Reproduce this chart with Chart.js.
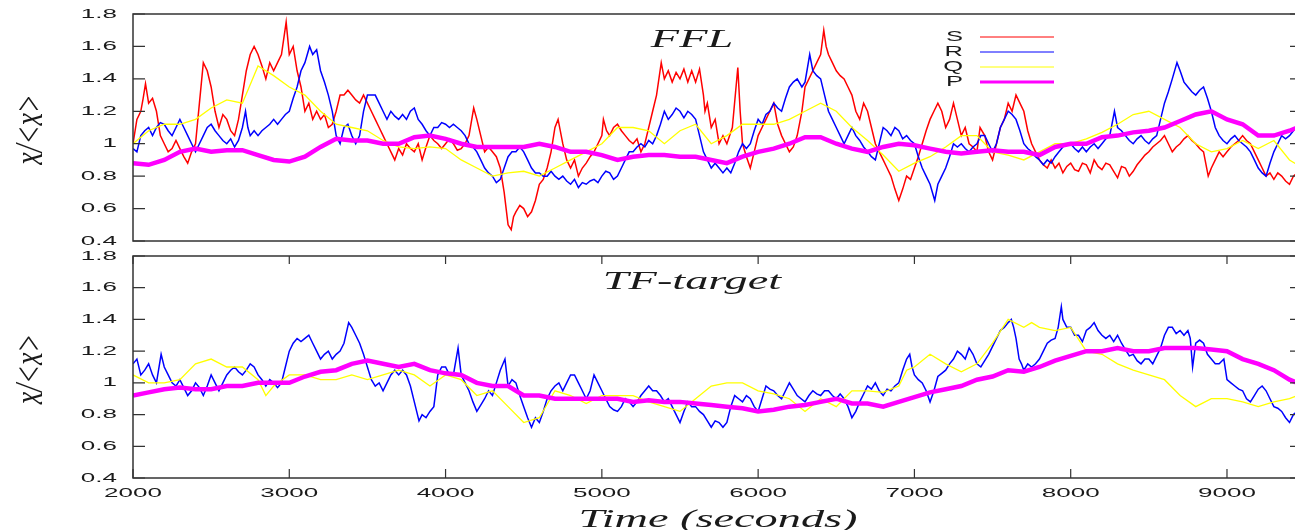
<!DOCTYPE html>
<html>
<head>
<meta charset="utf-8">
<script src="https://cdn.jsdelivr.net/npm/chart.js@4.4.1/dist/chart.umd.min.js"></script>
<style>
  html, body { margin: 0; padding: 0; background: #fff; overflow: hidden; }
  #wrap { position: relative; width: 1295px; height: 530px; overflow: hidden; }
  #wrap canvas { position: absolute; left: 0; top: 0; }
</style>
</head>
<body>
<div id="wrap">
  <canvas id="ffl" width="1303" height="530"></canvas>
  <canvas id="tft" width="1303" height="530"></canvas>
</div>
<script>
// tick labels
const xTicks = [2000, 3000, 4000, 5000, 6000, 7000, 8000, 9000];
const yTicks = [0.4, 0.6, 0.8, 1, 1.2, 1.4, 1.6, 1.8];

// FFL panel, [time, x/<x>]
const fflS = [[2000,1.0],[2025,1.15],[2050,1.2],[2065,1.28],[2080,1.37],[2100,1.25],[2125,1.28],[2150,1.2],[2175,1.05],[2200,1.0],[2225,0.95],[2250,0.97],[2275,1.02],[2300,0.97],[2325,0.92],[2350,0.88],[2375,0.95],[2400,1.0],[2425,1.25],[2450,1.5],[2475,1.45],[2500,1.35],[2525,1.2],[2550,1.1],[2575,1.18],[2600,1.15],[2625,1.08],[2650,1.05],[2675,1.15],[2700,1.3],[2725,1.45],[2750,1.55],[2775,1.6],[2800,1.55],[2825,1.48],[2850,1.4],[2875,1.5],[2900,1.45],[2925,1.5],[2950,1.55],[2980,1.75],[3000,1.55],[3025,1.6],[3050,1.45],[3075,1.35],[3100,1.2],[3125,1.25],[3150,1.15],[3175,1.2],[3200,1.15],[3225,1.18],[3250,1.1],[3275,1.12],[3300,1.2],[3325,1.3],[3350,1.3],[3375,1.33],[3400,1.3],[3425,1.27],[3450,1.25],[3475,1.3],[3500,1.25],[3525,1.2],[3550,1.15],[3575,1.1],[3600,1.05],[3625,1.0],[3650,0.95],[3675,0.9],[3700,0.97],[3725,0.93],[3750,1.0],[3775,0.97],[3800,0.95],[3825,1.0],[3850,0.9],[3875,0.98],[3900,1.05],[3925,1.02],[3950,1.0],[3975,0.97],[4000,1.0],[4025,1.03],[4050,1.0],[4075,0.96],[4100,0.97],[4125,1.0],[4150,1.05],[4180,1.22],[4200,1.15],[4225,1.05],[4250,0.95],[4275,0.98],[4300,0.95],[4325,0.92],[4350,0.85],[4375,0.7],[4400,0.5],[4420,0.47],[4435,0.55],[4450,0.58],[4475,0.62],[4500,0.6],[4525,0.55],[4550,0.58],[4575,0.65],[4600,0.75],[4625,0.78],[4650,0.85],[4675,0.95],[4700,1.1],[4720,1.15],[4750,1.0],[4775,0.9],[4800,0.85],[4825,0.9],[4850,0.8],[4875,0.85],[4900,0.88],[4925,0.92],[4950,0.95],[4975,1.0],[5000,1.05],[5010,1.15],[5030,1.08],[5050,1.05],[5075,1.1],[5100,1.12],[5125,1.08],[5150,1.05],[5175,1.02],[5200,1.0],[5225,1.03],[5250,0.95],[5275,1.0],[5300,1.1],[5325,1.2],[5350,1.3],[5380,1.5],[5400,1.4],[5425,1.45],[5450,1.38],[5475,1.44],[5500,1.4],[5525,1.46],[5550,1.38],[5575,1.45],[5600,1.38],[5625,1.46],[5650,1.3],[5660,1.2],[5675,1.25],[5700,1.1],[5725,1.15],[5750,1.0],[5775,1.05],[5800,1.0],[5835,1.1],[5870,1.47],[5885,1.2],[5900,1.0],[5925,0.92],[5950,0.85],[5975,0.95],[6000,1.05],[6025,1.1],[6050,1.15],[6075,1.2],[6100,1.25],[6125,1.12],[6150,1.05],[6175,1.0],[6200,0.95],[6225,0.98],[6250,1.05],[6280,1.2],[6300,1.35],[6325,1.4],[6350,1.45],[6375,1.5],[6400,1.55],[6420,1.7],[6435,1.6],[6450,1.55],[6475,1.5],[6500,1.45],[6525,1.42],[6550,1.4],[6575,1.35],[6600,1.3],[6625,1.2],[6650,1.15],[6675,1.25],[6700,1.2],[6725,1.1],[6750,1.0],[6775,0.95],[6800,0.9],[6825,0.85],[6850,0.8],[6875,0.72],[6900,0.65],[6925,0.72],[6950,0.8],[6975,0.78],[7000,0.85],[7025,0.92],[7050,1.0],[7075,1.08],[7100,1.15],[7125,1.2],[7150,1.25],[7175,1.2],[7200,1.1],[7225,1.15],[7250,1.25],[7275,1.15],[7300,1.05],[7325,1.1],[7350,1.0],[7375,0.98],[7400,0.95],[7420,1.1],[7450,1.05],[7475,0.95],[7500,0.9],[7525,1.0],[7550,1.1],[7575,1.15],[7600,1.25],[7625,1.2],[7650,1.3],[7675,1.25],[7700,1.2],[7725,1.08],[7750,1.0],[7775,0.95],[7800,0.9],[7825,0.87],[7850,0.85],[7875,0.9],[7900,0.85],[7925,0.88],[7950,0.82],[7975,0.86],[8000,0.88],[8025,0.84],[8050,0.83],[8075,0.88],[8100,0.87],[8125,0.82],[8150,0.9],[8175,0.86],[8200,0.84],[8225,0.88],[8250,0.87],[8275,0.83],[8300,0.79],[8325,0.86],[8350,0.85],[8375,0.8],[8400,0.83],[8425,0.87],[8450,0.9],[8475,0.93],[8500,0.95],[8525,0.98],[8550,1.0],[8575,1.02],[8600,1.05],[8625,1.0],[8650,0.95],[8675,0.98],[8700,1.0],[8725,1.03],[8750,1.05],[8775,1.02],[8800,1.0],[8825,0.97],[8850,0.95],[8880,0.8],[8900,0.85],[8925,0.9],[8950,0.95],[8975,0.92],[9000,0.95],[9025,0.98],[9050,1.0],[9075,1.02],[9100,1.05],[9125,1.02],[9150,1.0],[9175,0.95],[9200,0.9],[9225,0.85],[9250,0.8],[9275,0.82],[9300,0.78],[9325,0.82],[9350,0.8],[9375,0.77],[9400,0.75],[9425,0.8],[9450,0.82]];
const fflR = [[2000,0.97],[2025,0.95],[2050,1.05],[2075,1.08],[2100,1.1],[2125,1.05],[2150,1.1],[2175,1.13],[2200,1.12],[2225,1.08],[2250,1.05],[2275,1.1],[2300,1.15],[2325,1.1],[2350,1.05],[2375,1.0],[2400,0.95],[2425,1.0],[2450,1.05],[2475,1.1],[2500,1.12],[2525,1.08],[2550,1.05],[2575,1.02],[2600,1.0],[2625,1.03],[2650,0.98],[2675,1.02],[2700,1.1],[2720,1.2],[2735,1.1],[2750,1.05],[2775,1.08],[2800,1.05],[2825,1.08],[2850,1.1],[2875,1.12],[2900,1.15],[2925,1.12],[2950,1.15],[2975,1.18],[3000,1.2],[3025,1.28],[3050,1.35],[3075,1.45],[3100,1.5],[3130,1.6],[3150,1.55],[3175,1.58],[3200,1.45],[3225,1.38],[3250,1.3],[3275,1.2],[3300,1.05],[3325,1.0],[3350,1.1],[3375,1.12],[3400,1.05],[3425,1.0],[3450,1.05],[3475,1.2],[3500,1.3],[3525,1.3],[3550,1.3],[3575,1.25],[3600,1.2],[3625,1.15],[3650,1.2],[3675,1.17],[3700,1.15],[3725,1.18],[3750,1.15],[3775,1.2],[3800,1.22],[3825,1.15],[3850,1.12],[3875,1.08],[3900,1.05],[3925,1.1],[3950,1.1],[3975,1.13],[4000,1.12],[4025,1.1],[4050,1.12],[4075,1.1],[4100,1.08],[4125,1.05],[4150,1.0],[4175,0.98],[4200,0.95],[4225,0.9],[4250,0.85],[4275,0.82],[4300,0.8],[4325,0.76],[4350,0.78],[4375,0.85],[4400,0.92],[4425,0.95],[4450,0.95],[4475,0.98],[4500,0.95],[4525,0.9],[4550,0.85],[4575,0.82],[4600,0.82],[4625,0.8],[4650,0.8],[4675,0.83],[4700,0.8],[4725,0.78],[4750,0.8],[4775,0.77],[4800,0.75],[4825,0.78],[4850,0.73],[4875,0.76],[4900,0.75],[4925,0.77],[4950,0.78],[4975,0.76],[5000,0.8],[5025,0.83],[5050,0.82],[5075,0.78],[5100,0.8],[5125,0.85],[5150,0.9],[5175,0.95],[5200,0.95],[5225,0.98],[5250,1.0],[5275,0.98],[5300,1.02],[5325,1.0],[5350,1.05],[5375,1.12],[5400,1.2],[5425,1.15],[5450,1.18],[5475,1.22],[5500,1.2],[5525,1.16],[5550,1.2],[5575,1.18],[5600,1.15],[5625,1.05],[5650,0.95],[5675,0.9],[5700,0.85],[5725,0.88],[5750,0.85],[5775,0.82],[5800,0.85],[5825,0.82],[5850,0.88],[5875,0.95],[5900,1.0],[5925,0.97],[5950,1.0],[5975,1.08],[6000,1.15],[6025,1.12],[6050,1.18],[6075,1.2],[6100,1.25],[6125,1.22],[6150,1.2],[6175,1.28],[6200,1.35],[6225,1.38],[6250,1.4],[6280,1.35],[6300,1.38],[6330,1.55],[6350,1.45],[6375,1.42],[6400,1.4],[6425,1.3],[6450,1.2],[6475,1.15],[6500,1.1],[6525,1.05],[6550,1.0],[6575,1.05],[6600,1.1],[6625,1.05],[6650,1.02],[6675,0.98],[6700,0.95],[6725,0.92],[6750,0.9],[6775,1.0],[6800,1.1],[6825,1.08],[6850,1.05],[6875,1.1],[6900,1.08],[6925,1.03],[6950,1.05],[6975,1.02],[7000,1.0],[7025,0.92],[7050,0.85],[7075,0.8],[7100,0.75],[7130,0.65],[7150,0.75],[7175,0.8],[7200,0.85],[7225,0.92],[7250,1.0],[7275,0.98],[7300,1.0],[7325,0.97],[7350,0.95],[7375,0.98],[7400,1.0],[7425,1.05],[7450,1.05],[7475,1.0],[7500,0.95],[7525,1.0],[7550,1.1],[7575,1.15],[7600,1.2],[7625,1.18],[7650,1.15],[7675,1.08],[7700,1.0],[7725,0.97],[7750,0.95],[7775,0.92],[7800,0.9],[7825,0.87],[7850,0.9],[7875,0.88],[7900,0.92],[7925,0.95],[7950,0.98],[7975,1.0],[8000,1.0],[8025,0.97],[8050,0.95],[8075,0.98],[8100,0.95],[8125,0.98],[8150,1.0],[8175,0.97],[8200,1.0],[8225,1.03],[8250,1.05],[8280,1.2],[8300,1.1],[8325,1.08],[8350,1.05],[8375,1.02],[8400,1.0],[8425,1.03],[8450,1.05],[8475,1.02],[8500,1.0],[8525,1.03],[8550,1.05],[8575,1.15],[8600,1.25],[8625,1.32],[8650,1.4],[8680,1.5],[8700,1.45],[8725,1.38],[8750,1.35],[8775,1.32],[8800,1.3],[8825,1.33],[8850,1.35],[8875,1.28],[8900,1.2],[8925,1.1],[8950,1.05],[8975,1.02],[9000,1.0],[9025,1.03],[9050,1.05],[9075,1.02],[9100,1.0],[9125,0.98],[9150,0.95],[9175,0.9],[9200,0.85],[9225,0.82],[9250,0.8],[9275,0.88],[9300,0.95],[9325,1.0],[9350,1.05],[9375,1.03],[9400,1.05],[9425,1.08],[9450,1.1]];
const fflQ = [[2000,1.0],[2100,1.08],[2200,1.12],[2300,1.12],[2400,1.15],[2500,1.22],[2600,1.27],[2700,1.25],[2800,1.48],[2900,1.42],[3000,1.35],[3100,1.3],[3200,1.2],[3300,1.12],[3400,1.1],[3500,1.08],[3600,1.02],[3700,0.98],[3800,0.97],[3900,0.98],[4000,0.97],[4100,0.9],[4200,0.85],[4300,0.8],[4400,0.82],[4500,0.83],[4600,0.8],[4700,0.85],[4800,0.9],[4900,0.95],[5000,1.0],[5100,1.1],[5200,1.1],[5300,1.08],[5400,1.0],[5500,1.08],[5600,1.12],[5700,1.0],[5800,1.05],[5900,1.12],[6000,1.12],[6100,1.12],[6200,1.15],[6300,1.2],[6400,1.25],[6500,1.2],[6600,1.1],[6700,1.02],[6800,0.93],[6900,0.83],[7000,0.88],[7100,0.92],[7200,0.98],[7300,1.05],[7400,1.05],[7500,0.95],[7600,0.93],[7700,0.9],[7800,0.95],[7900,1.0],[8000,1.0],[8100,1.03],[8200,1.07],[8300,1.12],[8400,1.18],[8500,1.2],[8600,1.15],[8700,1.1],[8800,1.0],[8900,0.95],[9000,0.97],[9100,1.02],[9200,0.97],[9300,1.02],[9400,0.9],[9450,0.87]];
const fflP = [[2000,0.88],[2100,0.87],[2200,0.9],[2300,0.95],[2400,0.97],[2500,0.95],[2600,0.96],[2700,0.96],[2800,0.93],[2900,0.9],[3000,0.89],[3100,0.92],[3200,0.98],[3300,1.03],[3400,1.02],[3500,1.02],[3600,1.0],[3700,1.0],[3800,1.04],[3900,1.05],[4000,1.03],[4100,1.0],[4200,0.98],[4300,0.98],[4400,0.98],[4500,0.98],[4600,1.0],[4700,0.98],[4800,0.95],[4900,0.95],[5000,0.93],[5100,0.9],[5200,0.92],[5300,0.93],[5400,0.93],[5500,0.92],[5600,0.92],[5700,0.9],[5800,0.88],[5900,0.92],[6000,0.95],[6100,0.97],[6200,1.0],[6300,1.04],[6400,1.04],[6500,1.0],[6600,0.97],[6700,0.95],[6800,0.98],[6900,1.0],[7000,0.99],[7100,0.97],[7200,0.95],[7300,0.94],[7400,0.95],[7500,0.96],[7600,0.95],[7700,0.95],[7800,0.93],[7900,0.98],[8000,1.0],[8100,1.0],[8200,1.04],[8300,1.05],[8400,1.07],[8500,1.08],[8600,1.1],[8700,1.14],[8800,1.18],[8900,1.2],[9000,1.15],[9100,1.12],[9200,1.05],[9300,1.05],[9400,1.08],[9450,1.1]];

// TF-target panel
const tfR = [[2000,1.12],[2025,1.15],[2050,1.05],[2075,1.08],[2100,1.12],[2125,1.05],[2150,1.0],[2180,1.18],[2200,1.1],[2225,1.05],[2250,1.0],[2275,0.98],[2300,1.02],[2325,0.97],[2350,0.92],[2375,0.95],[2400,1.0],[2425,0.97],[2450,0.92],[2475,0.98],[2500,1.05],[2525,1.0],[2550,0.95],[2575,1.0],[2600,1.05],[2625,1.08],[2650,1.1],[2675,1.07],[2700,1.05],[2725,1.08],[2750,1.12],[2775,1.1],[2800,1.05],[2825,1.02],[2850,0.98],[2875,1.02],[2900,1.0],[2925,0.97],[2950,1.0],[2975,1.1],[3000,1.2],[3025,1.25],[3050,1.28],[3075,1.26],[3100,1.28],[3125,1.3],[3150,1.25],[3175,1.2],[3200,1.15],[3225,1.18],[3250,1.2],[3275,1.15],[3300,1.18],[3325,1.2],[3350,1.25],[3380,1.38],[3400,1.35],[3425,1.3],[3450,1.25],[3475,1.18],[3500,1.1],[3525,1.02],[3550,0.98],[3575,1.0],[3600,0.95],[3625,1.0],[3650,1.05],[3675,1.08],[3700,1.05],[3725,1.08],[3750,1.05],[3775,0.98],[3800,0.88],[3830,0.76],[3850,0.8],[3875,0.78],[3900,0.82],[3925,0.85],[3950,1.05],[3975,1.1],[4000,1.1],[4025,1.05],[4050,1.05],[4080,1.22],[4100,1.05],[4125,1.0],[4150,0.95],[4175,0.88],[4200,0.82],[4225,0.86],[4250,0.9],[4275,0.95],[4300,0.92],[4325,1.0],[4350,1.08],[4380,1.15],[4400,0.98],[4425,1.02],[4450,1.0],[4475,0.92],[4500,0.85],[4525,0.78],[4550,0.72],[4575,0.78],[4600,0.75],[4625,0.82],[4650,0.9],[4675,0.95],[4700,0.98],[4725,1.0],[4750,0.95],[4775,1.0],[4800,1.05],[4825,1.05],[4850,1.0],[4875,0.95],[4900,0.9],[4925,0.95],[4950,1.05],[4975,1.0],[5000,0.95],[5025,0.9],[5050,0.85],[5075,0.83],[5100,0.82],[5125,0.85],[5150,0.9],[5175,0.88],[5200,0.85],[5225,0.88],[5250,0.92],[5275,0.95],[5300,0.98],[5325,0.95],[5350,0.95],[5375,0.92],[5400,0.88],[5425,0.9],[5450,0.85],[5475,0.8],[5500,0.75],[5525,0.82],[5550,0.88],[5575,0.85],[5600,0.85],[5625,0.82],[5650,0.8],[5675,0.76],[5700,0.72],[5725,0.76],[5750,0.75],[5775,0.72],[5800,0.75],[5825,0.85],[5850,0.92],[5875,0.9],[5900,0.88],[5925,0.92],[5950,0.9],[5975,0.85],[6000,0.82],[6025,0.9],[6050,0.98],[6075,0.96],[6100,0.95],[6125,0.92],[6150,0.9],[6175,0.95],[6200,1.0],[6225,0.96],[6250,0.92],[6275,0.9],[6300,0.88],[6325,0.92],[6350,0.95],[6375,0.93],[6400,0.92],[6425,0.95],[6450,0.95],[6475,0.92],[6500,0.9],[6525,0.93],[6550,0.9],[6575,0.85],[6600,0.78],[6625,0.82],[6650,0.88],[6675,0.93],[6700,0.98],[6725,0.96],[6750,1.0],[6775,0.95],[6800,0.92],[6825,0.96],[6850,0.95],[6875,0.98],[6900,1.0],[6925,1.08],[6950,1.15],[6970,1.18],[6985,1.1],[7000,1.05],[7025,1.02],[7050,1.0],[7075,0.95],[7100,0.88],[7125,0.95],[7150,1.04],[7175,1.06],[7200,1.08],[7225,1.12],[7250,1.15],[7275,1.2],[7300,1.18],[7325,1.15],[7350,1.22],[7375,1.18],[7400,1.12],[7425,1.1],[7450,1.14],[7475,1.18],[7500,1.23],[7525,1.28],[7550,1.33],[7575,1.35],[7600,1.38],[7620,1.4],[7635,1.35],[7650,1.28],[7670,1.15],[7685,1.12],[7700,1.08],[7725,1.12],[7750,1.1],[7775,1.12],[7800,1.15],[7825,1.2],[7850,1.25],[7875,1.27],[7900,1.28],[7920,1.35],[7940,1.48],[7950,1.4],[7975,1.35],[8000,1.35],[8025,1.3],[8050,1.3],[8075,1.26],[8100,1.33],[8125,1.35],[8150,1.38],[8175,1.33],[8200,1.3],[8225,1.28],[8250,1.3],[8275,1.26],[8300,1.3],[8325,1.25],[8350,1.21],[8375,1.17],[8400,1.18],[8425,1.14],[8450,1.12],[8475,1.15],[8500,1.15],[8525,1.12],[8550,1.17],[8575,1.22],[8600,1.3],[8625,1.35],[8650,1.35],[8675,1.31],[8700,1.33],[8725,1.3],[8750,1.33],[8765,1.28],[8780,1.1],[8800,1.25],[8825,1.27],[8850,1.25],[8875,1.18],[8900,1.15],[8925,1.12],[8950,1.12],[8980,1.15],[9000,1.02],[9025,1.0],[9050,0.98],[9075,0.96],[9100,0.95],[9125,0.9],[9150,0.88],[9175,0.92],[9200,0.96],[9225,0.98],[9250,0.95],[9275,0.9],[9300,0.85],[9325,0.84],[9350,0.82],[9375,0.78],[9400,0.75],[9425,0.8],[9450,0.82]];
const tfQ = [[2000,1.05],[2100,1.0],[2200,1.0],[2300,1.02],[2400,1.12],[2500,1.15],[2600,1.1],[2700,1.1],[2800,1.02],[2850,0.92],[2900,0.98],[3000,1.05],[3100,1.05],[3200,1.02],[3300,1.02],[3400,1.05],[3500,1.02],[3600,1.05],[3700,1.08],[3800,1.05],[3900,0.98],[4000,1.05],[4100,1.02],[4200,0.92],[4300,0.95],[4400,0.85],[4500,0.75],[4600,0.78],[4700,0.95],[4800,0.92],[4900,0.87],[5000,0.92],[5100,0.92],[5200,0.92],[5300,0.88],[5400,0.85],[5500,0.82],[5600,0.9],[5700,0.98],[5800,1.0],[5900,1.0],[6000,0.95],[6100,0.93],[6200,0.9],[6300,0.82],[6400,0.9],[6500,0.85],[6600,0.95],[6700,0.95],[6800,0.94],[6900,0.98],[6950,1.08],[7000,1.1],[7100,1.18],[7200,1.12],[7300,1.07],[7400,1.12],[7500,1.25],[7600,1.4],[7700,1.35],[7750,1.38],[7800,1.35],[7900,1.33],[8000,1.35],[8100,1.2],[8200,1.18],[8300,1.12],[8400,1.08],[8500,1.05],[8600,1.02],[8700,0.92],[8800,0.85],[8900,0.9],[9000,0.9],[9100,0.88],[9200,0.85],[9300,0.88],[9400,0.9],[9450,0.92]];
const tfP = [[2000,0.92],[2100,0.94],[2200,0.96],[2300,0.97],[2400,0.96],[2500,0.96],[2600,0.98],[2700,0.98],[2800,1.0],[2900,1.0],[3000,1.0],[3100,1.04],[3200,1.07],[3300,1.08],[3400,1.12],[3500,1.14],[3600,1.12],[3700,1.1],[3800,1.12],[3900,1.08],[4000,1.06],[4100,1.05],[4200,1.0],[4300,0.98],[4400,0.98],[4500,0.92],[4600,0.92],[4700,0.9],[4800,0.9],[4900,0.9],[5000,0.9],[5100,0.9],[5200,0.88],[5300,0.89],[5400,0.88],[5500,0.88],[5600,0.87],[5700,0.86],[5800,0.85],[5900,0.84],[6000,0.82],[6100,0.83],[6200,0.85],[6300,0.86],[6400,0.88],[6500,0.9],[6600,0.87],[6700,0.87],[6800,0.85],[6900,0.88],[7000,0.91],[7100,0.94],[7200,0.96],[7300,0.98],[7400,1.02],[7500,1.04],[7600,1.08],[7700,1.07],[7800,1.1],[7900,1.14],[8000,1.17],[8100,1.2],[8200,1.2],[8300,1.22],[8400,1.2],[8500,1.2],[8600,1.22],[8700,1.22],[8800,1.22],[8900,1.21],[9000,1.2],[9100,1.15],[9200,1.12],[9300,1.08],[9400,1.02],[9450,1.0]];

const colors = { S: '#ff0000', R: '#0000ff', Q: '#ffff00', P: '#ff00ff' };
const widths = { S: 1.5, R: 1.5, Q: 1.3, P: 4.5 };
const SX = 1.78; // the original figure is stretched sideways

function toXY(arr) {
  return arr.map(p => ({ x: p[0], y: p[1] }));
}

function ds(name, arr, order) {
  return {
    label: name,
    data: toXY(arr),
    borderColor: colors[name],
    borderWidth: widths[name],
    pointRadius: 0,
    tension: 0,
    fill: false,
    order: order
  };
}

function stretchText(ctx, str, x, y, font, sx, align, base) {
  ctx.save();
  ctx.translate(x, y);
  ctx.scale(sx, 1);
  ctx.font = font;
  ctx.textAlign = align;
  ctx.textBaseline = base || 'middle';
  ctx.fillStyle = '#1a1a1a';
  ctx.fillText(str, 0, 0);
  ctx.restore();
}

// frame, inward ticks, labels, titles
const panelPlugin = {
  id: 'panel',
  afterDraw(chart, args, opts) {
    const ctx = chart.ctx;
    const a = chart.chartArea;
    const xs = chart.scales.x, ys = chart.scales.y;
    ctx.save();
    ctx.strokeStyle = '#333';
    ctx.lineWidth = 1.5;
    ctx.strokeRect(a.left, a.top, a.right - a.left, a.bottom - a.top);

    ctx.lineWidth = 1.2;
    ctx.beginPath();
    yTicks.forEach(v => {
      const py = ys.getPixelForValue(v);
      ctx.moveTo(a.left, py); ctx.lineTo(a.left + 12, py);
      ctx.moveTo(a.right, py); ctx.lineTo(a.right - 12, py);
    });
    if (opts.xTicks) {
      xTicks.forEach(v => {
        const px = xs.getPixelForValue(v);
        ctx.moveTo(px, a.bottom); ctx.lineTo(px, a.bottom - 9);
        ctx.moveTo(px, a.top); ctx.lineTo(px, a.top + 8);
      });
    }
    ctx.stroke();
    ctx.restore();

    yTicks.forEach(v => {
      const label = v === 1 ? '1' : v.toFixed(1);
      stretchText(ctx, label, 117, ys.getPixelForValue(v), "13px 'Liberation Sans'", 2.0, 'right');
    });
    if (opts.xLabels) {
      xTicks.forEach(v => {
        stretchText(ctx, String(v), xs.getPixelForValue(v), a.bottom + 15, "13px 'Liberation Sans'", 2.0, 'center');
      });
      stretchText(ctx, 'Time (seconds)', 718, 527, "italic 26px 'Liberation Serif'", SX, 'center', 'alphabetic');
    }

    stretchText(ctx, opts.title, 692, opts.titleY, "italic 26px 'Liberation Serif'", SX, 'center', 'alphabetic');

    // y axis title, rotated
    ctx.save();
    ctx.translate(32, (a.top + a.bottom) / 2 + 2);
    ctx.rotate(-Math.PI / 2);
    ctx.scale(1, 1.4);
    ctx.font = "italic 28px 'Liberation Serif'";
    ctx.textAlign = 'center';
    ctx.textBaseline = 'middle';
    ctx.fillStyle = '#1a1a1a';
    ctx.fillText('x/<x>', 0, 0);
    ctx.restore();

    if (opts.legend) {
      chart.data.datasets.forEach((d, i) => {
        const ly = 37 + i * 15;
        stretchText(ctx, d.label, 963, ly, "15px 'Liberation Sans'", 1.7, 'right');
        ctx.save();
        ctx.strokeStyle = d.borderColor;
        ctx.lineWidth = d.label === 'P' ? 3 : 1;
        ctx.beginPath();
        ctx.moveTo(980, ly); ctx.lineTo(1054, ly);
        ctx.stroke();
        ctx.restore();
      });
    }
  }
};

function makePanel(id, datasets, padding, panelOpts) {
  return new Chart(document.getElementById(id), {
    type: 'line',
    data: { datasets: datasets },
    options: {
      responsive: false,
      animation: false,
      layout: { padding: padding },
      scales: {
        x: { type: 'linear', min: 2000, max: 9480, display: false },
        y: { min: 0.4, max: 1.8, display: false }
      },
      plugins: {
        legend: { display: false },
        tooltip: { enabled: false },
        panel: panelOpts
      }
    },
    plugins: [panelPlugin]
  });
}

makePanel('ffl',
  [ds('S', fflS, 4), ds('R', fflR, 3), ds('Q', fflQ, 2), ds('P', fflP, 1)],
  { top: 14, left: 133, right: 1, bottom: 289 },
  { title: 'FFL', titleY: 47, legend: true, xTicks: false, xLabels: false });

makePanel('tft',
  [ds('R', tfR, 3), ds('Q', tfQ, 2), ds('P', tfP, 1)],
  { top: 256, left: 133, right: 1, bottom: 52 },
  { title: 'TF-target', titleY: 289, legend: false, xTicks: true, xLabels: true });
</script>
</body>
</html>
